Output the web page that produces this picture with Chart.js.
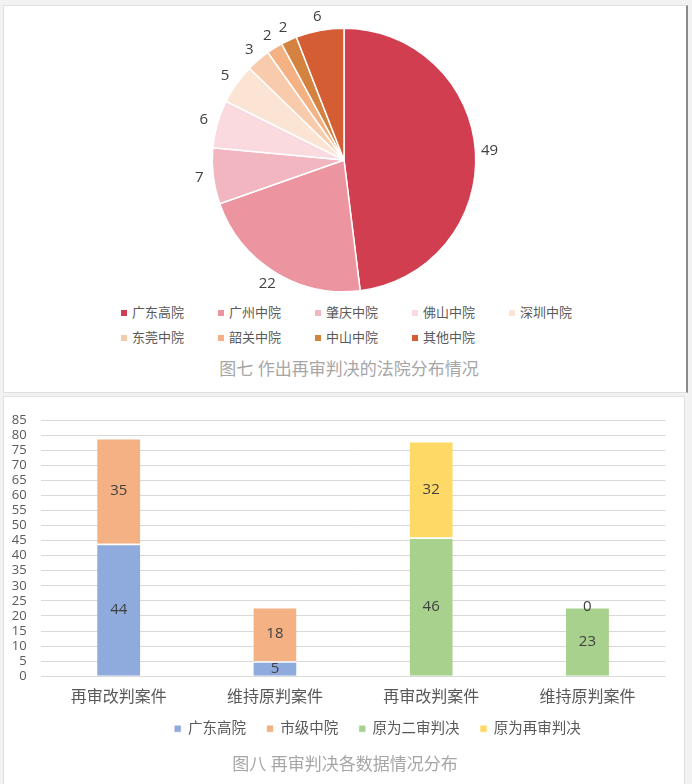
<!DOCTYPE html>
<html>
<head>
<meta charset="utf-8">
<script src="https://cdn.jsdelivr.net/npm/chart.js@4.4.0/dist/chart.umd.min.js"></script>
<style>
    html, body { margin: 0; padding: 0; }
    body {
        width: 692px; height: 784px; position: relative; overflow: hidden;
        background: #f2f2f2;
        font-family: 'Open Sans', 'Noto Sans CJK SC', sans-serif;
    }
    .panel { position: absolute; background: #fff; border: 1px solid #e0e0e0; box-sizing: border-box; }
    #panelPie { left: 3px; top: 5px; width: 685px; height: 388px; border-right: 2px solid #8a8a8a; }
    #panelBar { left: 3px; top: 396px; width: 682px; height: 392px; }
    canvas { position: absolute; }
    #pieChart { left: 0; top: 0; }
    #barChart { left: 0; top: 396px; }
    #pieLegend {
        position: absolute; left: 121px; top: 300px;
        display: grid; grid-template-columns: repeat(5, 97px); grid-auto-rows: 25px;
        font-size: 13px; color: #595959;
    }
    #pieLegend div { line-height: 25px; white-space: nowrap; }
    #pieLegend span { display: inline-block; width: 6px; height: 6px; margin-right: 5px; vertical-align: 1px; }
    .caption { position: absolute; left: 0; text-align: center; font-size: 17px; color: #a6a6a6; line-height: 24px; }
</style>
</head>
<body>
<div class="panel" id="panelPie"></div>
<div class="panel" id="panelBar"></div>
<canvas id="pieChart" width="692" height="300"></canvas>
<div id="pieLegend"></div>
<div class="caption" style="width:698px; top:357px;">图七 作出再审判决的法院分布情况</div>
<canvas id="barChart" width="692" height="369"></canvas>
<div class="caption" style="width:690px; top:752px;">图八 再审判决各数据情况分布</div>

<script>
// 图七 数据
const courtNames = ['广东高院', '广州中院', '肇庆中院', '佛山中院', '深圳中院', '东莞中院', '韶关中院', '中山中院', '其他中院'];
const courtCounts = [49, 22, 7, 6, 5, 3, 2, 2, 6];
const courtColors = ['#d03e50', '#ec95a0', '#f2b6c0', '#fad9df', '#fce4d4', '#f8cbad', '#f4b183', '#d4823f', '#d45d33'];

// 图八 数据
const caseTypes = ['再审改判案件', '维持原判案件', '再审改判案件', '维持原判案件'];
const gdHigh = [44, 5, null, null];
const cityMid = [35, 18, null, null];
const origSecond = [null, null, 46, 23];
const origRetrial = [null, null, 32, 0];
const yTicks = { min: 0, max: 85, step: 5 };

const baseFont = "'Open Sans', 'Noto Sans CJK SC', sans-serif";
Chart.defaults.font.family = baseFont;

// 饼图外侧数值
const pieLabels = {
    id: 'pieLabels',
    afterDatasetsDraw(chart) {
        const ctx = chart.ctx;
        const meta = chart.getDatasetMeta(0);
        ctx.save();
        ctx.font = '15px ' + baseFont;
        ctx.fillStyle = '#404040';
        ctx.textAlign = 'center';
        ctx.textBaseline = 'middle';
        meta.data.forEach((arc, i) => {
            const p = arc.getProps(['x', 'y', 'startAngle', 'endAngle', 'outerRadius'], true);
            const mid = (p.startAngle + p.endAngle) / 2;
            const d = p.outerRadius + 14;
            ctx.fillText(chart.data.datasets[0].data[i], p.x + Math.cos(mid) * d, p.y + Math.sin(mid) * d);
        });
        ctx.restore();
    }
};

// 柱内数值
const barLabels = {
    id: 'barLabels',
    afterDatasetsDraw(chart) {
        const ctx = chart.ctx;
        ctx.save();
        ctx.font = '15px ' + baseFont;
        ctx.fillStyle = '#404040';
        ctx.textAlign = 'center';
        ctx.textBaseline = 'middle';
        chart.data.datasets.forEach((ds, di) => {
            chart.getDatasetMeta(di).data.forEach((bar, i) => {
                if (ds.data[i] === null) return;
                const c = bar.getCenterPoint();
                ctx.fillText(ds.data[i], c.x, c.y);
            });
        });
        ctx.restore();
    }
};

// 图例略向右上
const shiftLegend = {
    id: 'shiftLegend',
    afterLayout(chart) {
        const lg = chart.legend;
        lg.left += 42;
        lg.right += 42;
        lg.top -= 19;
        lg.bottom -= 19;
    }
};

new Chart(document.getElementById('pieChart'), {
    type: 'pie',
    data: {
        labels: courtNames,
        datasets: [{
            data: courtCounts,
            backgroundColor: courtColors,
            borderColor: '#ffffff',
            borderWidth: 1.5,
            hoverOffset: 0
        }]
    },
    options: {
        responsive: false,
        animation: false,
        layout: { padding: { top: 27.5, left: 211.5, right: 215.5, bottom: 7.5 } },
        plugins: { legend: { display: false }, tooltip: { enabled: false } }
    },
    plugins: [pieLabels]
});

// 图七 图例
const legendBox = document.getElementById('pieLegend');
courtNames.forEach((name, i) => {
    const item = document.createElement('div');
    item.innerHTML = `<span style="background:${courtColors[i]}"></span>${name}`;
    legendBox.appendChild(item);
});

new Chart(document.getElementById('barChart'), {
    type: 'bar',
    data: {
        labels: caseTypes,
        datasets: [
            { label: '广东高院', data: gdHigh, backgroundColor: '#8faadc' },
            { label: '市级中院', data: cityMid, backgroundColor: '#f4b183' },
            { label: '原为二审判决', data: origSecond, backgroundColor: '#a9d18e' },
            { label: '原为再审判决', data: origRetrial, backgroundColor: '#ffd966' }
        ].map(ds => ({
            ...ds,
            borderColor: '#ffffff',
            borderWidth: { top: 1.5, left: 0, right: 0, bottom: 0 },
            borderSkipped: false,
            barPercentage: 0.276,
            categoryPercentage: 1
        }))
    },
    options: {
        responsive: false,
        animation: false,
        layout: { padding: { top: 24, left: 6, right: 26.5, bottom: 0 } },
        scales: {
            x: {
                stacked: true,
                grid: { display: false, drawTicks: false },
                border: { display: false },
                ticks: { color: '#595959', font: { size: 16 }, padding: 12 }
            },
            y: {
                stacked: true,
                min: yTicks.min,
                max: yTicks.max,
                grid: { color: '#d9d9d9', drawTicks: false },
                border: { display: false },
                ticks: { stepSize: yTicks.step, autoSkip: false, color: '#595959', font: { size: 13 }, padding: 14 },
                afterFit(scale) { scale.width = 34.6; }
            }
        },
        plugins: {
            tooltip: { enabled: false },
            legend: {
                position: 'bottom',
                labels: {
                    boxWidth: 6,
                    boxHeight: 6,
                    padding: 21,
                    color: '#595959',
                    font: { size: 14.5 },
                    generateLabels(chart) {
                        return Chart.defaults.plugins.legend.labels.generateLabels(chart)
                            .map(l => ({ ...l, strokeStyle: l.fillStyle }));
                    }
                }
            }
        }
    },
    plugins: [barLabels, shiftLegend]
});
</script>
</body>
</html>
